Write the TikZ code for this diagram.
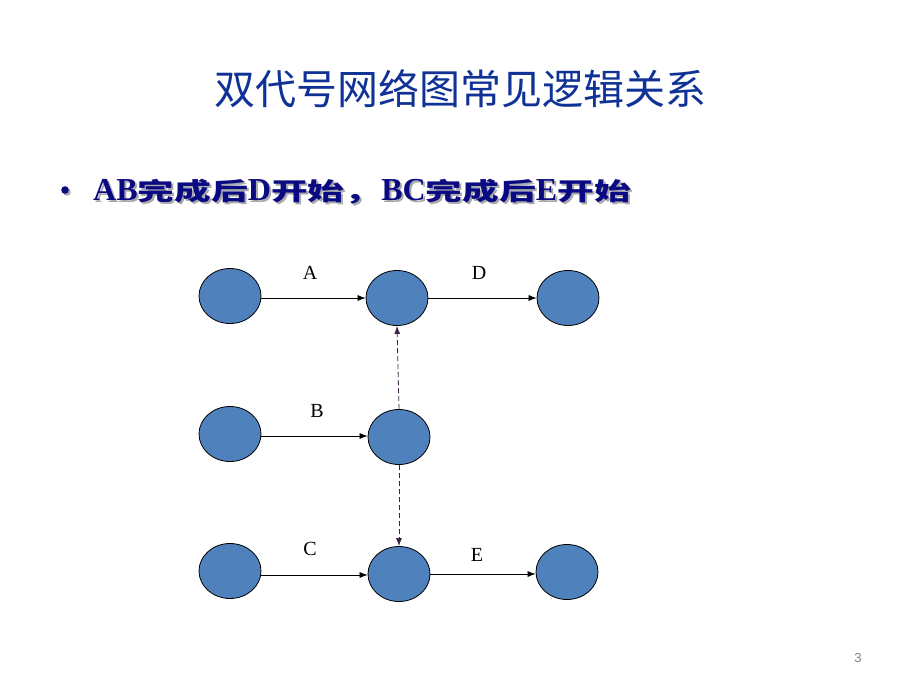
\documentclass[tikz,border=0pt]{standalone}
\usepackage{fontspec}
\setmainfont{Liberation Serif}
\newfontfamily\cjk{Noto Sans CJK SC}
\newfontfamily\cjkwide[FakeStretch=1.5]{Noto Sans CJK SC}
\newfontfamily\pgsans{Liberation Sans}
\usetikzlibrary{shapes.geometric,arrows.meta}
\definecolor{titleblue}{RGB}{16,50,150}
\definecolor{navy}{RGB}{10,10,130}
\definecolor{nodefill}{RGB}{79,129,189}
\definecolor{shadowgray}{RGB}{170,170,170}
\definecolor{dumcol}{RGB}{60,35,70}
\newcommand{\cw}[1]{{\cjkwide\fontsize{24.5}{30}\selectfont\bfseries #1}}
\newcommand{\bulletline}{AB\cw{完成后}D\cw{开始，}BC\cw{完成后}E\cw{开始}}
\begin{document}
\begin{tikzpicture}[x=1pt,y=-1pt,
  ev/.style={ellipse,draw=black,line width=0.8pt,fill=nodefill,minimum width=62pt,minimum height=55pt,inner sep=0pt},
  act/.style={draw=black,line width=0.7pt,-{Latex[length=8pt,width=6pt]}},
  dum/.style={draw=dumcol,line width=0.8pt,dash pattern=on 5pt off 3pt,-{Latex[length=8pt,width=6pt]}},
  lbl/.style={font=\fontsize{20}{22}\selectfont,text=black,inner sep=0pt},
  btext/.style={anchor=base west,inner sep=0pt,font=\fontsize{32}{36}\selectfont\bfseries}]
\useasboundingbox (0,0) rectangle (920,690);
\fill[white] (0,0) rectangle (920,690);
% title
\node[text=titleblue,font=\cjk\fontsize{41}{44}\selectfont,inner sep=0pt] (title) at (460,89) {双代号网络图常见逻辑关系};
% bullet line with shadow
\node[btext,text=shadowgray] (bshadow) at (95,202) {\bulletline};
\node[btext,text=navy] (bullettext) at (93,200) {\bulletline};
\fill[shadowgray] (67,192) circle (3.8pt);
\fill[navy] (65,190) circle (3.8pt) coordinate (bullet);
% nodes
\node[ev] (n1) at (230,296) {};
\node[ev] (n2) at (397,298) {};
\node[ev] (n3) at (568,298) {};
\node[ev] (n4) at (230,434) {};
\node[ev] (n5) at (399,437) {};
\node[ev] (n6) at (230,571) {};
\node[ev] (n7) at (399,574) {};
\node[ev] (n8) at (567,572) {};
% arrows
\draw[act] (n1.east |- 0,298) -- (n2.west);
\draw[act] (n2) -- (n3);
\draw[act] (n4.east |- 0,436) -- (n5.west |- 0,436);
\draw[act] (n6.east |- 0,575) -- (n7.west |- 0,575);
\draw[act] (n7.east |- 0,574) -- (n8.west |- 0,574);
\draw[dum] (n5.north) -- (n2.south);
\draw[dum] (n5.south) -- (n7.north);
% labels
\node[lbl] (lA) at (310,273) {A};
\node[lbl] (lD) at (479,273) {D};
\node[lbl] (lB) at (317,411) {B};
\node[lbl] (lC) at (310,549) {C};
\node[lbl] (lE) at (477,555) {E};
% page number
\node[text=gray,font=\pgsans\fontsize{13}{14}\selectfont,inner sep=0pt] (pg) at (858,658) {3};
\end{tikzpicture}
\end{document}
